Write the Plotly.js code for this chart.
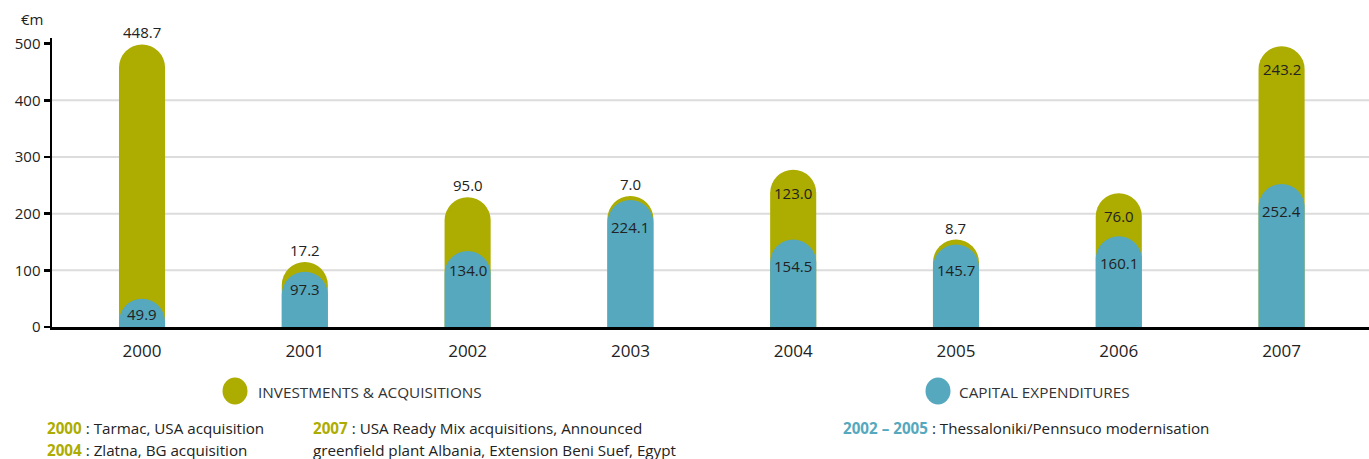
<!DOCTYPE html>
<html>
<head>
<meta charset="utf-8">
<script src="https://cdn.plot.ly/plotly-3.0.1.min.js"></script>
<style>html,body{margin:0;padding:0;background:#fff;}#chart{width:1369px;height:459px;}</style>
</head>
<body>
<div id="chart"></div>
<script>
// ---- data ----
const years = ['2000', '2001', '2002', '2003', '2004', '2005', '2006', '2007'];
const capex = [49.9, 97.3, 134.0, 224.1, 154.5, 145.7, 160.1, 252.4];
const investments = [448.7, 17.2, 95.0, 7.0, 123.0, 8.7, 76.0, 243.2];
const yTicks = [0, 100, 200, 300, 400, 500];
const legendNames = ['INVESTMENTS & ACQUISITIONS', 'CAPITAL EXPENDITURES'];
const notesInv = [
  ['2000', 'Tarmac, USA acquisition'],
  ['2004', 'Zlatna, BG acquisition'],
  ['2007', 'USA Ready Mix acquisitions, Announced'],
  ['', 'greenfield plant Albania, Extension Beni Suef, Egypt']
];
const notesCapex = [['2002 – 2005', 'Thessaloniki/Pennsuco modernisation']];

// ---- style ----
const OLIVE = '#ADAC00';
const BLUE = '#55A8BE';
const FONT = 'Open Sans, Noto Sans, sans-serif';
const TXT = '#222222';
// whether the investment label sits inside the bar top (style choice per bar)
const invLabelInside = [false, false, false, false, true, false, true, true];

const totals = capex.map((c, i) => c + investments[i]);

// plot area geometry (pixels)
const L = 52, R = 0, T = 38, B = 132, W = 1369, H = 459;
const pw = W - L - R, ph = H - T - B;
const px = x => (x - L) / pw;        // pixel x -> paper x
const py = y => (H - B - y) / ph;    // pixel y -> paper y

const BW = 0.283;
const XR = [-0.553, 7.537], YR = [0, 510];
const traces = [
  {
    type: 'bar', x: years, y: totals, name: legendNames[0],
    marker: {color: OLIVE, cornerradius: 23, line: {width: 0}},
    width: BW, hoverinfo: 'skip', showlegend: false
  },
  {
    type: 'bar', x: years, y: capex, name: legendNames[1], xaxis: 'x2', yaxis: 'y2',
    marker: {color: BLUE, cornerradius: 23, line: {width: 0}},
    width: BW, hoverinfo: 'skip', showlegend: false
  }
];

const annotations = [];
years.forEach((yr, i) => {
  const inv = investments[i];
  const inside = invLabelInside[i];
  annotations.push({
    x: i, y: totals[i], xref: 'x', yref: 'y', text: inv.toFixed(1),
    showarrow: false, yanchor: 'middle', yshift: inside ? -23 : 12,
    font: {family: FONT, size: 15, color: TXT}
  });
  const c = capex[i];
  const ly = c < 60 ? c * 0.47 : Math.max(c - 47, Math.min(100, c - 30));
  annotations.push({
    x: i, y: ly, xref: 'x', yref: 'y', text: c.toFixed(1),
    showarrow: false, yanchor: 'middle',
    font: {family: FONT, size: 15, color: TXT}
  });
});

// unit label
annotations.push({
  x: px(19), y: py(19), xref: 'paper', yref: 'paper', text: '€m',
  showarrow: false, xanchor: 'left', yanchor: 'middle',
  font: {family: FONT, size: 15, color: TXT}
});

// legend texts
annotations.push({
  x: px(256), y: py(392), xref: 'paper', yref: 'paper', text: legendNames[0],
  showarrow: false, xanchor: 'left', yanchor: 'middle',
  font: {family: FONT, size: 15.3, color: '#333'}
});
annotations.push({
  x: px(957), y: py(392), xref: 'paper', yref: 'paper', text: legendNames[1],
  showarrow: false, xanchor: 'left', yanchor: 'middle',
  font: {family: FONT, size: 15.3, color: '#333'}
});

// footnotes
const noteText = (yr, txt, col) => (yr ? '<b><span style="color:' + col + '">' + yr + '</span></b> : ' : '') + txt;
const notePos = [[45, 428], [45, 450], [311, 428], [311, 450]];
notesInv.forEach((n, i) => {
  annotations.push({
    x: px(notePos[i][0]), y: py(notePos[i][1]), xref: 'paper', yref: 'paper',
    text: noteText(n[0], n[1], OLIVE), showarrow: false, xanchor: 'left', yanchor: 'middle',
    font: {family: FONT, size: 15.2, color: TXT}
  });
});
annotations.push({
  x: px(841), y: py(428), xref: 'paper', yref: 'paper',
  text: noteText(notesCapex[0][0], notesCapex[0][1], BLUE), showarrow: false,
  xanchor: 'left', yanchor: 'middle', font: {family: FONT, size: 15.2, color: TXT}
});

const shapes = [
  {type: 'circle', xref: 'paper', yref: 'paper', xsizemode: 'pixel', ysizemode: 'pixel',
   xanchor: px(235), yanchor: py(391), x0: -12.5, x1: 12.5, y0: -13.5, y1: 13.5,
   fillcolor: OLIVE, line: {width: 0}},
  {type: 'circle', xref: 'paper', yref: 'paper', xsizemode: 'pixel', ysizemode: 'pixel',
   xanchor: px(938), yanchor: py(391), x0: -12.5, x1: 12.5, y0: -13.5, y1: 13.5,
   fillcolor: BLUE, line: {width: 0}}
];
// horizontal grid lines (none at the top tick)
yTicks.filter(v => v > 0 && v < 500).forEach(v => {
  shapes.push({type: 'line', xref: 'paper', yref: 'y', x0: 0, x1: 1, y0: v, y1: v,
    layer: 'below', line: {color: '#dcdcdc', width: 2}});
});

const layout = {
  width: W, height: H,
  margin: {l: L, r: R, t: T, b: B, pad: 0},
  paper_bgcolor: '#fff', plot_bgcolor: 'rgba(0,0,0,0)',
  barmode: 'overlay',
  showlegend: false,
  font: {family: FONT, color: TXT},
  xaxis: {
    type: 'category', range: XR,
    showline: true, linecolor: '#000', linewidth: 3,
    ticks: '', showgrid: false, zeroline: false,
    tickfont: {family: FONT, size: 17, color: TXT}, ticklabelstandoff: 7
  },
  yaxis: {
    range: YR, tickvals: yTicks, ticktext: yTicks.map(String),
    showline: true, linecolor: '#000', linewidth: 2.5,
    ticks: 'outside', ticklen: 6, tickwidth: 2.5, tickcolor: '#000',
    showgrid: false, zeroline: false,
    tickfont: {family: FONT, size: 15, color: TXT}
  },
  xaxis2: {type: 'category', range: XR, overlaying: 'x', visible: false, showgrid: false, zeroline: false},
  yaxis2: {range: YR, overlaying: 'y', visible: false, showgrid: false, zeroline: false},
  annotations: annotations,
  shapes: shapes
};

Plotly.newPlot('chart', traces, layout, {displayModeBar: false, staticPlot: true});
</script>
</body>
</html>
